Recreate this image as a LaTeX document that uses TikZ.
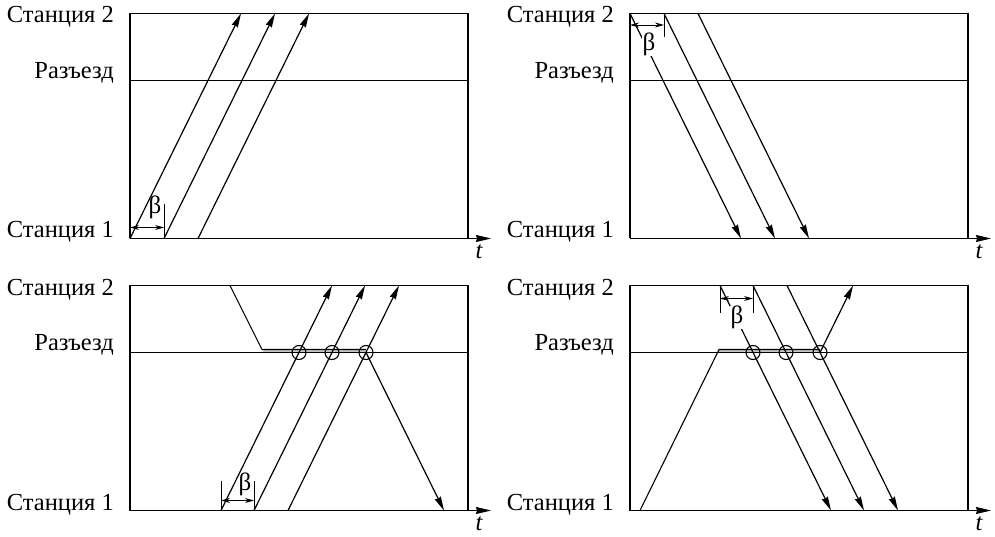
\documentclass[tikz,border=0pt]{standalone}
\usepackage{fontspec}
\setmainfont{Liberation Serif}
\newfontfamily\labelfont{Liberation Serif}
\usetikzlibrary{arrows.meta}
\newcommand\PanelBase{%
  \coordinate (tl) at (0,0); \coordinate (tr) at (338,0);
  \coordinate (bl) at (0,225); \coordinate (br) at (338,225);
  \coordinate (rl) at (0,67); \coordinate (rr) at (338,67);
  \coordinate (ax) at (361,225);
  \draw[frame] (bl) -- (tl) -- (tr) -- (br);
  \draw[axisarrow] (bl) -- (ax);
  \draw[track] (rl) -- (rr);
  \node[lbl] (st2) at (-16,9.5) {Станция 2};
  \node[lbl] (raz) at (-16,65) {Разъезд};
  \node[lbl] (st1) at (-16,224.5) {Станция 1};
  \node[tlbl] (t) at (349,245) {t};
}
\begin{document}
\begin{tikzpicture}[x=1pt,y=-1pt,
  frame/.style={line width=1.2pt},
  track/.style={line width=1.1pt},
  train/.style={line width=1.2pt,-{Stealth[length=14pt,width=6.5pt,inset=1pt]}},
  axisarrow/.style={line width=1.2pt,-{Stealth[length=15pt,width=7pt,inset=1pt]}},
  dim/.style={line width=0.9pt,{Stealth[length=9pt,width=5pt]}-{Stealth[length=9pt,width=5pt]}},
  tickline/.style={line width=1pt},
  lbl/.style={font=\labelfont\fontsize{24.5}{29}\selectfont, anchor=base east, inner sep=0pt},
  blbl/.style={font=\labelfont\fontsize{25}{29}\selectfont, inner sep=0.5pt},
  tlbl/.style={font=\labelfont\fontsize{24.5}{29}\selectfont\itshape, anchor=base, inner sep=0pt},
  meet/.style={circle, draw, line width=1.1pt, minimum size=14pt, inner sep=0pt},
  waitband/.style={fill=gray!45, draw=none},
  waitline/.style={line width=1.1pt},
]
\useasboundingbox (0,0) rectangle (995,537);

% ---------- top left ----------
\begin{scope}[shift={(130,13.5)}, name prefix=A-]
  \PanelBase
  \coordinate (s1) at (0,225);  \coordinate (e1) at (111,0);
  \coordinate (s2) at (34,225); \coordinate (e2) at (145,0);
  \coordinate (s3) at (68,225); \coordinate (e3) at (179,0);
  \draw[train] (s1) -- (e1);
  \draw[train] (s2) -- (e2);
  \draw[train] (s3) -- (e3);
  \coordinate (k) at (34,191);
  \draw[tickline] (s2) -- (k);
  \coordinate (d1) at (0,214); \coordinate (d2) at (34,214);
  \draw[dim] (d1) -- (d2);
  \node[blbl] (beta) at (25,194) {β};
\end{scope}

% ---------- top right ----------
\begin{scope}[shift={(630,13.5)}, name prefix=B-]
  \PanelBase
  \coordinate (s1) at (0,0);  \coordinate (e1) at (111,225);
  \coordinate (s2) at (34,0); \coordinate (e2) at (145,225);
  \coordinate (s3) at (68,0); \coordinate (e3) at (179,225);
  \draw[train] (s1) -- (e1);
  \draw[train] (s2) -- (e2);
  \draw[train] (s3) -- (e3);
  \coordinate (k) at (34,24);
  \draw[tickline] (s2) -- (k);
  \coordinate (d1) at (0,11.5); \coordinate (d2) at (34,11.5);
  \draw[dim] (d1) -- (d2);
  \node[blbl, fill=white] (beta) at (19,31) {β};
\end{scope}

% ---------- bottom left ----------
\begin{scope}[shift={(130,285.5)}, name prefix=C-]
  \coordinate (w1) at (133,64); \coordinate (w2) at (236,67);
  \fill[waitband] (w1) rectangle (w2);
  \PanelBase
  \coordinate (s1) at (91,225);  \coordinate (e1) at (202,0);
  \coordinate (s2) at (124,225); \coordinate (e2) at (235,0);
  \coordinate (s3) at (158,225); \coordinate (e3) at (269,0);
  \draw[train] (s1) -- (e1);
  \draw[train] (s2) -- (e2);
  \draw[train] (s3) -- (e3);
  \coordinate (q0) at (100,0); \coordinate (q1) at (132,64); \coordinate (q2) at (236,64);
  \draw[waitline] (q0) -- (q1) -- (q2);
  \node[meet] (c1) at (169,67) {};
  \node[meet] (c2) at (202,67) {};
  \node[meet] (c3) at (236,67) {};
  \coordinate (q3) at (314,225);
  \draw[train] (c3.center) -- (q3);
  \coordinate (k1) at (91,195); \coordinate (k2) at (124,195);
  \draw[tickline] (s1) -- (k1);
  \draw[tickline] (s2) -- (k2);
  \coordinate (d1) at (91,215); \coordinate (d2) at (124,215);
  \draw[dim] (d1) -- (d2);
  \node[blbl] (beta) at (115,199) {β};
\end{scope}

% ---------- bottom right ----------
\begin{scope}[shift={(630,285.5)}, name prefix=D-]
  \coordinate (w1) at (89,64); \coordinate (w2) at (190,67);
  \fill[waitband] (w1) rectangle (w2);
  \PanelBase
  \coordinate (s1) at (90,0);  \coordinate (e1) at (201,225);
  \coordinate (s2) at (123,0); \coordinate (e2) at (234,225);
  \coordinate (s3) at (157,0); \coordinate (e3) at (268,225);
  \draw[train] (s1) -- (e1);
  \draw[train] (s2) -- (e2);
  \draw[train] (s3) -- (e3);
  \coordinate (q0) at (10,225); \coordinate (q1) at (89,64); \coordinate (q2) at (190,64);
  \draw[waitline] (q0) -- (q1) -- (q2);
  \node[meet] (c1) at (123,67) {};
  \node[meet] (c2) at (156,67) {};
  \node[meet] (c3) at (190,67) {};
  \coordinate (q3) at (223,0);
  \draw[train] (c3.center) -- (q3);
  \coordinate (k1) at (90,27); \coordinate (k2) at (123,27);
  \draw[tickline] (s1) -- (k1);
  \draw[tickline] (s2) -- (k2);
  \coordinate (d1) at (90,13); \coordinate (d2) at (123,13);
  \draw[dim] (d1) -- (d2);
  \node[blbl, fill=white] (beta) at (107,32) {β};
\end{scope}
\end{tikzpicture}
\end{document}
